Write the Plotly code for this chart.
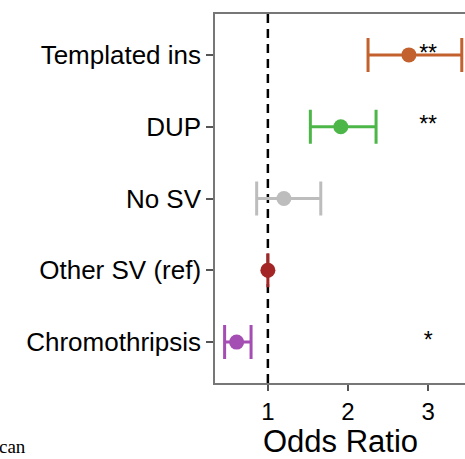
import plotly.graph_objects as go

categories = ["Chromothripsis", "Other SV (ref)", "No SV", "DUP", "Templated ins"]
odds_ratio = [0.61, 1.0, 1.20, 1.91, 2.76]
ci_low = [0.46, 1.0, 0.86, 1.53, 2.25]
ci_high = [0.79, 1.0, 1.66, 2.35, 3.42]
stars = ["*", "", "", "**", "**"]
star_x = 3.0

colors = ["#A44DB3", "#A32525", "#BDBDBD", "#4DB649", "#C2612D"]

fig = go.Figure()
for i, cat in enumerate(categories):
    fig.add_trace(go.Scatter(
        x=[odds_ratio[i]], y=[i], mode="markers",
        marker=dict(color=colors[i], size=15),
        error_x=dict(type="data", symmetric=False,
                     array=[ci_high[i] - odds_ratio[i]],
                     arrayminus=[odds_ratio[i] - ci_low[i]],
                     color=colors[i], thickness=3, width=17),
        showlegend=False,
    ))

star_y = [i for i, s in enumerate(stars) if s]
star_t = [s for s in stars if s]
fig.add_trace(go.Scatter(
    x=[star_x] * len(star_y), y=star_y, mode="text", text=star_t,
    textposition="middle center",
    textfont=dict(size=23, color="black", family="Liberation Sans"),
    showlegend=False,
))

fig.add_shape(type="line", xref="x", yref="paper", x0=1, x1=1, y0=0, y1=1,
              line=dict(color="black", width=2.5, dash="9px,6px"), layer="below")

fig.add_annotation(text="can", xref="paper", yref="paper", x=-215/250, y=-76/369,
                   xanchor="left", yanchor="bottom", showarrow=False, xshift=-3,
                   font=dict(family="Liberation Serif", size=19, color="black"))

fig.add_annotation(text="Odds Ratio", xref="paper", yref="paper", x=0.5, y=-76/369,
                   xanchor="center", yanchor="bottom", showarrow=False, yshift=-2,
                   font=dict(family="Liberation Sans", size=31, color="black"))

fig.update_layout(
    width=465, height=459,
    margin=dict(l=215, r=0, t=14, b=76),
    plot_bgcolor="white", paper_bgcolor="white",
    font=dict(family="Liberation Sans", color="black"),
    xaxis=dict(range=[0.34, 3.46], tickvals=[1, 2, 3], ticks="outside", ticklen=6,
               tickwidth=1.5, tickcolor="#555", showline=True, linecolor="#777",
               linewidth=1.5, mirror=True, showgrid=False, zeroline=False,
               tickfont=dict(size=24)),
    yaxis=dict(range=[-0.57, 4.57], tickvals=list(range(len(categories))), ticktext=categories,
               ticks="outside", ticklen=7, tickwidth=1.5, tickcolor="#555",
               showline=True, linecolor="#777", linewidth=1.5, showgrid=False,
               zeroline=False, tickfont=dict(size=26)),
)

fig.write_html("out.html")
